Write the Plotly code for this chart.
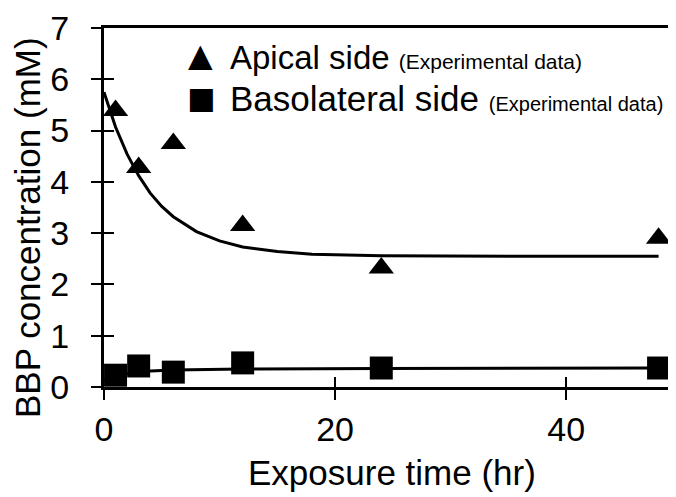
import plotly.graph_objects as go

time_hr = [1, 3, 6, 12, 24, 48]
apical_mM = [5.39, 4.28, 4.75, 3.15, 2.32, 2.90]
basolateral_mM = [0.23, 0.41, 0.29, 0.47, 0.37, 0.37]

# Fitted curves
apical_fit_t = [0, 1, 2, 3, 4, 5, 6, 8, 10, 12, 15, 18, 24, 30, 36, 42, 48]
apical_fit_y = [5.75, 5.07, 4.54, 4.12, 3.78, 3.52, 3.32, 3.03, 2.85, 2.73,
                2.64, 2.59, 2.56, 2.55, 2.55, 2.55, 2.55]
baso_fit_t = [0, 1, 2, 3, 4, 6, 8, 12, 24, 48]
baso_fit_y = [0.12, 0.20, 0.26, 0.29, 0.31, 0.33, 0.34, 0.35, 0.36, 0.37]

x_ticks = [0, 20, 40]
y_ticks = [0, 1, 2, 3, 4, 5, 6, 7]
x_range = [0, 50.2]
y_range = [0, 7]

FONT = "Liberation Sans, Arial, sans-serif"

# plot area in window pixels (page body adds 8px offset)
PL, PR, PT, PB = 104, 684, 28, 387


def px(xw):
    return (xw - PL) / (PR - PL)


def py(yw):
    return (PB - yw) / (PB - PT)


fig = go.Figure()
fig.add_trace(go.Scatter(x=apical_fit_t, y=apical_fit_y, mode="lines",
                         line=dict(color="black", width=3), showlegend=False))
fig.add_trace(go.Scatter(x=baso_fit_t, y=baso_fit_y, mode="lines",
                         line=dict(color="black", width=3), showlegend=False))
fig.add_trace(go.Scatter(x=time_hr, y=apical_mM, mode="markers",
                         marker=dict(symbol="triangle-up", size=22, color="black"),
                         cliponaxis=False, showlegend=False))
fig.add_trace(go.Scatter(x=time_hr, y=basolateral_mM, mode="markers",
                         marker=dict(symbol="square", size=23, color="black"),
                         cliponaxis=False, showlegend=False))
# empty trace to activate the overlay axes (inside tick halves)
fig.add_trace(go.Scatter(x=[], y=[], xaxis="x2", yaxis="y2", showlegend=False))

fig.update_layout(
    width=676, height=497,
    margin=dict(l=96, r=0, t=20, b=118),
    paper_bgcolor="white", plot_bgcolor="white",
    font=dict(family=FONT, color="black"),
    xaxis=dict(range=x_range, tickvals=x_ticks, ticks="outside", ticklen=10,
               tickwidth=2, tickcolor="black", showline=True, linecolor="black",
               linewidth=3, mirror=True, showgrid=False, zeroline=False,
               tickfont=dict(size=34, family=FONT), ticklabelstandoff=0),
    yaxis=dict(range=y_range, tickvals=y_ticks, ticks="outside", ticklen=10,
               tickwidth=2, tickcolor="black", showline=True, linecolor="black",
               linewidth=3, showgrid=False, zeroline=False,
               tickfont=dict(size=34, family=FONT), ticklabelstandoff=15),
    xaxis2=dict(range=x_range, tickvals=x_ticks, ticks="inside", ticklen=10,
                tickwidth=2, tickcolor="black", showticklabels=False,
                showline=False, showgrid=False, zeroline=False,
                overlaying="x", anchor="y2", side="bottom"),
    yaxis2=dict(range=y_range, tickvals=y_ticks, ticks="inside", ticklen=10,
                tickwidth=2, tickcolor="black", showticklabels=False,
                showline=False, showgrid=False, zeroline=False,
                overlaying="y", anchor="x2", side="left"),
    annotations=[
        dict(text="Exposure time (hr)", xref="paper", yref="paper",
             x=px(392), y=py(472), xanchor="center", yanchor="middle",
             showarrow=False, font=dict(size=35, family=FONT)),
        dict(text="BBP concentration (mM)", xref="paper", yref="paper",
             x=px(27), y=py(228), xanchor="center", yanchor="middle",
             textangle=-90, showarrow=False, font=dict(size=35, family=FONT)),
        dict(text="▲", xref="paper", yref="paper", x=px(200), y=py(55),
             xanchor="center", yanchor="middle", showarrow=False,
             font=dict(size=32, family="DejaVu Sans")),
        dict(text="■", xref="paper", yref="paper", x=px(201), y=py(97),
             xanchor="center", yanchor="middle", showarrow=False,
             font=dict(size=30, family="DejaVu Sans")),
        dict(text="Apical side <span style='font-size:21px'>(Experimental data)</span>",
             xref="paper", yref="paper", x=px(228), y=py(58),
             xanchor="left", yanchor="middle", showarrow=False,
             font=dict(size=33, family=FONT)),
        dict(text="Basolateral side <span style='font-size:20px'>(Experimental data)</span>",
             xref="paper", yref="paper", x=px(228), y=py(98),
             xanchor="left", yanchor="middle", showarrow=False,
             font=dict(size=35, family=FONT)),
    ],
)

fig.write_html("out.html")
